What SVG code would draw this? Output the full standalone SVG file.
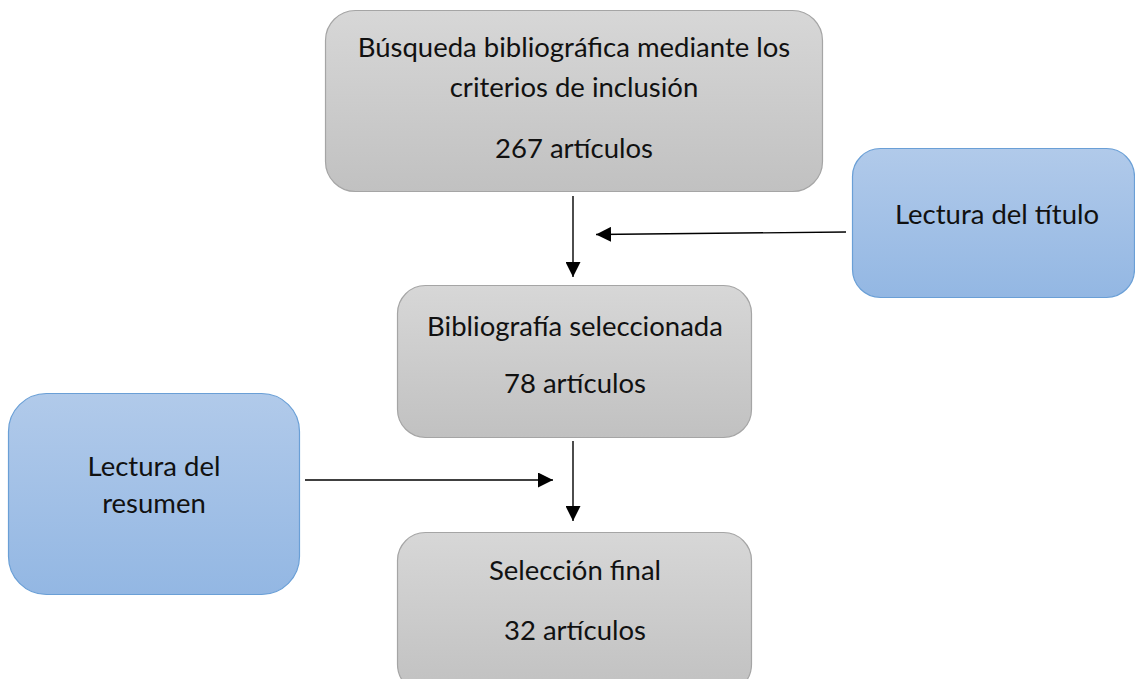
<svg xmlns="http://www.w3.org/2000/svg" width="1135" height="679" viewBox="0 0 1135 679">
  <defs>
    <linearGradient id="gGray" x1="0" y1="0" x2="0" y2="1">
      <stop offset="0" stop-color="#d7d7d7"/>
      <stop offset="1" stop-color="#c1c1c1"/>
    </linearGradient>
    <linearGradient id="gBlue" x1="0" y1="0" x2="0" y2="1">
      <stop offset="0" stop-color="#b1caea"/>
      <stop offset="1" stop-color="#93b7e3"/>
    </linearGradient>
    <marker id="arr" viewBox="0 0 10 10" refX="10" refY="5" markerWidth="15" markerHeight="15" markerUnits="userSpaceOnUse" orient="auto">
      <path d="M0,0 L10,5 L0,10 Z" fill="#000"/>
    </marker>
  </defs>
  <style>
    .gray { fill: url(#gGray); stroke: #a5a5a5; stroke-width: 1.2; }
    .blue { fill: url(#gBlue); stroke: #6a9fd6; stroke-width: 1.2; }
    .t { font-family: Lato, "Open Sans", sans-serif; font-size: 27.5px; fill: #111; text-anchor: middle; }
    .c { stroke: #000; stroke-width: 1.4; fill: none; marker-end: url(#arr); }
  </style>
  <rect width="1135" height="679" fill="#fff"/>
  <g id="busqueda">
    <rect class="gray" x="325.5" y="10.5" width="497" height="181" rx="30"/>
    <text class="t" x="574" y="57">Búsqueda bibliográfica mediante los</text>
    <text class="t" x="574" y="97">criterios de inclusión</text>
    <text class="t" x="574" y="158">267 artículos</text>
  </g>
  <g id="titulo">
    <rect class="blue" x="852.5" y="148.5" width="282" height="149" rx="28"/>
    <text class="t" x="997" y="224">Lectura del título</text>
  </g>
  <g id="seleccionada">
    <rect class="gray" x="397.5" y="285.5" width="354" height="152" rx="28"/>
    <text class="t" x="575" y="336">Bibliografía seleccionada</text>
    <text class="t" x="575" y="393">78 artículos</text>
  </g>
  <g id="resumen">
    <rect class="blue" x="8.5" y="393.5" width="291" height="201" rx="38"/>
    <text class="t" x="154" y="476">Lectura del</text>
    <text class="t" x="154" y="513">resumen</text>
  </g>
  <g id="final">
    <rect class="gray" x="397.5" y="532.5" width="354" height="160" rx="28"/>
    <text class="t" x="575" y="580">Selección final</text>
    <text class="t" x="575" y="640">32 artículos</text>
  </g>
  <g id="connectors">
    <line class="c" x1="573" y1="196" x2="573" y2="277"/>
    <line class="c" x1="846" y1="232" x2="596" y2="234.5"/>
    <line class="c" x1="573" y1="441" x2="573" y2="521"/>
    <line class="c" x1="305" y1="480" x2="553" y2="480"/>
  </g>
</svg>
